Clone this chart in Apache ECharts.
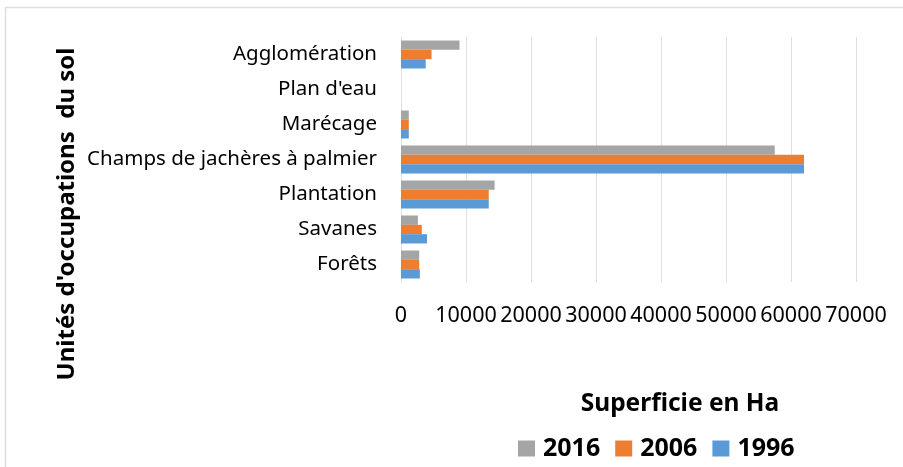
<!DOCTYPE html>
<html>
<head>
<meta charset="utf-8">
<script src="https://cdn.jsdelivr.net/npm/echarts@6/dist/echarts.min.js"></script>
<style>
  html, body { margin: 0; padding: 0; background: #fff; }
  #main { width: 903px; height: 467px; }
</style>
</head>
<body>
<div id="main"></div>
<script>
// occupation du sol (Ha)
const categories = ['Forêts', 'Savanes', 'Plantation', 'Champs de jachères à palmier', 'Marécage', "Plan d'eau", 'Agglomération'];
const v2016 = [2800, 2600, 14400, 57500, 1200, 0, 9000];
const v2006 = [2800, 3200, 13500, 62000, 1200, 0, 4700];
const v1996 = [2900, 4000, 13500, 62000, 1200, 0, 3800];
const xTicks = [0, 70000, 10000]; // min, max, interval

const font = 'Noto Sans';
let chart = echarts.init(document.getElementById('main'));

let option = {
  backgroundColor: '#fff',
  animation: false,
  grid: { left: 401, right: 47, top: 37, bottom: 185, containLabel: false },
  legend: {
    data: ['2016', '2006', '1996'],
    left: 513,
    top: 431,
    icon: 'rect',
    itemWidth: 17,
    itemHeight: 16,
    itemGap: 15,
    textStyle: { fontFamily: font, fontWeight: 'bold', fontSize: 25, color: '#000', padding: [0, 0, 0, 3] }
  },
  xAxis: {
    type: 'value',
    min: xTicks[0],
    max: xTicks[1],
    interval: xTicks[2],
    axisLine: { show: false },
    axisTick: { show: false },
    axisLabel: { fontFamily: font, fontSize: 21.5, color: '#000', margin: 23, formatter: v => String(v) },
    splitLine: { lineStyle: { color: '#dcdfe4', width: 1 } }
  },
  yAxis: {
    type: 'category',
    data: categories,
    axisLine: { lineStyle: { color: '#dcdfe4' } },
    axisTick: { show: false },
    axisLabel: { fontFamily: font, fontSize: 20.5, color: '#000', margin: 24 }
  },
  series: [
    { name: '2016', type: 'bar', data: v2016, itemStyle: { color: '#a5a5a5' }, barGap: '0%', barCategoryGap: '20%' },
    { name: '2006', type: 'bar', data: v2006, itemStyle: { color: '#ed7d31' } },
    { name: '1996', type: 'bar', data: v1996, itemStyle: { color: '#5b9bd5' } }
  ],
  graphic: [
    {
      type: 'polyline',
      shape: { points: [[5.5, 470], [5.5, 7.5], [910, 7.5]] },
      style: { stroke: '#dcdfe4', lineWidth: 1.5, fill: null }
    },
    {
      type: 'text',
      x: 67, y: 214,
      rotation: Math.PI / 2,
      style: {
        text: "Unités d'occupations  du sol",
        fontFamily: font, fontWeight: 'bold', fontSize: 24, fill: '#000',
        align: 'center', verticalAlign: 'middle'
      }
    },
    {
      type: 'text',
      x: 680, y: 404,
      style: {
        text: 'Superficie en Ha',
        fontFamily: font, fontWeight: 'bold', fontSize: 24.5, fill: '#000',
        align: 'center', verticalAlign: 'middle'
      }
    }
  ]
};
chart.setOption(option);
</script>
</body>
</html>
